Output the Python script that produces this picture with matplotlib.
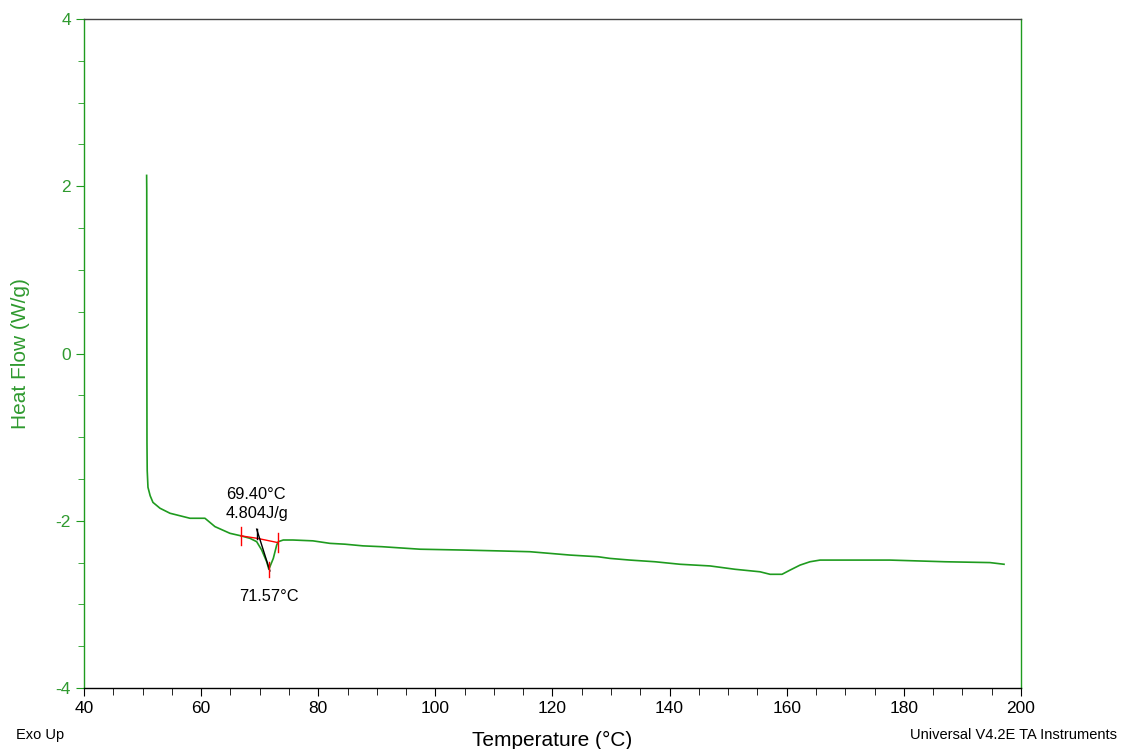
import matplotlib
matplotlib.use("Agg")
import matplotlib.pyplot as plt
from matplotlib.ticker import MultipleLocator

plt.rcParams['font.family'] = ['Liberation Sans', 'DejaVu Sans']
plt.rcParams['axes.unicode_minus'] = False

# DSC trace
temp = [50.70, 50.72, 50.74, 50.76, 50.80, 50.93, 51.30, 51.78, 52.98, 54.69,
        58.10, 60.66, 62.37, 64.93, 66.81, 68.35, 69.49, 70.35, 71.20, 71.57,
        72.33, 72.91, 73.18, 74.03, 75.69, 79.10, 82.00, 84.57, 87.64, 90.89,
        97.38, 104.72, 110.70, 116.16, 119.58, 122.99, 127.77, 129.82, 133.24,
        137.51, 141.78, 146.90, 151.17, 155.44, 157.15, 159.19, 160.56, 162.27,
        163.97, 165.68, 177.64, 187.03, 194.71, 197.10]
heat_flow = [2.13, 1.95, 0.00, -1.07, -1.40, -1.60, -1.70, -1.78, -1.85, -1.91,
             -1.97, -1.97, -2.07, -2.15, -2.18, -2.21, -2.25, -2.35, -2.49, -2.58,
             -2.45, -2.29, -2.25, -2.23, -2.23, -2.24, -2.27, -2.28, -2.30, -2.31,
             -2.34, -2.35, -2.36, -2.37, -2.39, -2.41, -2.43, -2.45, -2.47,
             -2.49, -2.52, -2.54, -2.58, -2.61, -2.64, -2.64, -2.59, -2.53,
             -2.49, -2.47, -2.47, -2.49, -2.50, -2.52]

# peak integration markers
base_t = [66.81, 69.6, 73.05]
base_hf = [-2.18, -2.21, -2.26]
tangent_t = [69.49, 71.75]
tangent_hf = [-2.10, -2.60]
onset_t = 69.40
peak_t = 71.57
peak_hf = -2.58
enthalpy = 4.804

green = '#1f9b1f'
label_green = '#2f9a2f'

fig = plt.figure(figsize=(11.21, 7.49), dpi=100)
ax = fig.add_axes([0.0749, 0.0814, 0.8359, 0.8932])

ax.plot(temp, heat_flow, color=green, lw=1.2, zorder=3)
ax.plot(base_t, base_hf, color='red', lw=1.0, zorder=4)
ax.plot(tangent_t, tangent_hf, color='black', lw=1.0, zorder=4)
ax.plot([base_t[0]] * 2, [base_hf[0] - 0.11, base_hf[0] + 0.11], color='red', lw=1.0, zorder=4)
ax.plot([base_t[-1]] * 2, [base_hf[-1] - 0.11, base_hf[-1] + 0.11], color='red', lw=1.0, zorder=4)
ax.plot([peak_t] * 2, [peak_hf - 0.09, peak_hf + 0.09], color='red', lw=1.0, zorder=4)
ax.plot([onset_t + 0.15] * 2, [-2.10, -2.22], color='black', lw=1.0, zorder=4)

ax.text(64.2, -1.68, f"{onset_t:.2f}°C", fontsize=11.8, ha='left', va='center')
ax.text(64.2, -1.91, f"{enthalpy:.3f}J/g", fontsize=11.8, ha='left', va='center')
ax.text(peak_t, -2.91, f"{peak_t:.2f}°C", fontsize=11.8, ha='center', va='center')

ax.set_xlim(40, 200)
ax.set_ylim(-4, 4)
ax.xaxis.set_major_locator(MultipleLocator(20))
ax.xaxis.set_minor_locator(MultipleLocator(5))
ax.yaxis.set_major_locator(MultipleLocator(2))
ax.yaxis.set_minor_locator(MultipleLocator(0.5))

ax.spines['left'].set_color(green)
ax.spines['right'].set_color(green)
ax.spines['top'].set_color('#444444')
ax.spines['bottom'].set_color('black')
for s in ax.spines.values():
    s.set_linewidth(1.0)

ax.tick_params(axis='y', which='both', colors=green, labelcolor=label_green, labelsize=12.5)
ax.tick_params(axis='y', which='major', length=6)
ax.tick_params(axis='y', which='minor', length=4)
ax.tick_params(axis='x', which='both', colors='black', labelsize=12.5)
ax.tick_params(axis='x', which='major', length=6)
ax.tick_params(axis='x', which='minor', length=5)

ax.set_xlabel('Temperature (°C)', fontsize=15, va='center')
ax.xaxis.set_label_coords(0.5, -52 / 669)
ax.set_ylabel('Heat Flow (W/g)', fontsize=15, color=label_green, va='center')
ax.yaxis.set_label_coords(-63 / 937, 0.5)

fig.text(16 / 1121, 1 - 735 / 749, 'Exo Up', fontsize=10.5, ha='left', va='center')
fig.text(1117 / 1121, 1 - 735 / 749, 'Universal V4.2E TA Instruments', fontsize=10.5,
         ha='right', va='center')

fig.savefig('out.png', dpi=100)
